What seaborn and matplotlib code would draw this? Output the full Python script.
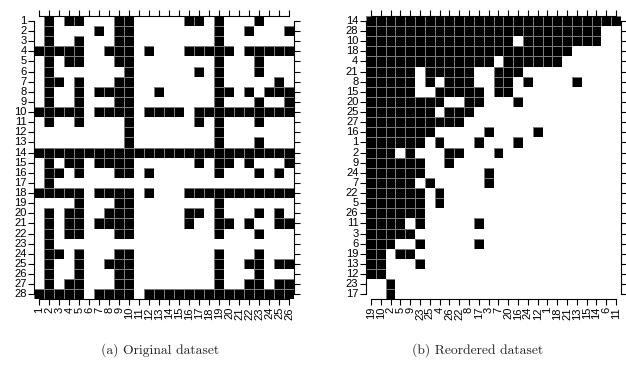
import numpy as np
import pandas as pd
import matplotlib
matplotlib.use("Agg")
import matplotlib.pyplot as plt
import seaborn as sns
from matplotlib.colors import ListedColormap, to_rgba

# ---- data: black cells (column indices) for each row of the original matrix ----
row_ids = list(range(1, 29))
col_ids = list(range(1, 27))
black_cells = {
    1: [2, 4, 5, 9, 10, 16, 17, 19, 23],
    2: [2, 7, 9, 10, 19, 22, 26],
    3: [2, 5, 9, 10, 19],
    4: [1, 2, 3, 4, 5, 8, 9, 10, 12, 16, 17, 18, 19, 20, 22, 23, 24, 25, 26],
    5: [2, 4, 5, 9, 10, 19, 23],
    6: [2, 10, 17, 19, 23],
    7: [2, 3, 5, 9, 10, 19, 25],
    8: [2, 5, 7, 8, 9, 10, 13, 19, 20, 22, 24, 25, 26],
    9: [2, 5, 9, 10, 19, 23, 26],
    10: [1, 2, 3, 4, 5, 7, 8, 9, 10, 12, 13, 14, 15, 17, 18, 19, 20, 21, 22, 23, 24, 25, 26],
    11: [2, 5, 10, 17, 19, 23],
    12: [10, 19],
    13: [10, 19, 23],
    14: [1, 2, 3, 4, 5, 6, 7, 8, 9, 10, 11, 12, 13, 14, 15, 16, 17, 18, 19, 20, 21, 22, 23, 24, 25, 26],
    15: [2, 4, 5, 7, 8, 9, 10, 17, 19, 20, 22, 26],
    16: [2, 3, 5, 9, 10, 12, 19, 23, 25],
    17: [2],
    18: [1, 2, 3, 4, 5, 7, 8, 9, 10, 12, 16, 17, 18, 19, 20, 21, 22, 23, 24, 25, 26],
    19: [5, 9, 10, 19],
    20: [2, 4, 5, 8, 9, 10, 16, 17, 19, 23, 25],
    21: [2, 4, 5, 7, 8, 9, 10, 16, 19, 20, 22, 25, 26],
    22: [2, 4, 5, 9, 10, 19, 23],
    23: [2],
    24: [2, 3, 5, 9, 10, 19, 23],
    25: [2, 5, 8, 9, 10, 19, 22, 23, 25, 26],
    26: [2, 5, 9, 10, 19, 23],
    27: [2, 4, 5, 9, 10, 19, 22, 23, 25, 26],
    28: [1, 2, 3, 4, 5, 7, 8, 9, 10, 12, 13, 14, 15, 16, 17, 18, 19, 20, 21, 22, 23, 24, 25, 26],
}
row_order = [14, 28, 10, 18, 4, 21, 8, 15, 20, 25, 27, 16, 1, 2, 9, 24, 7, 22, 5, 26, 11, 3, 6, 19, 13, 12, 23, 17]
col_order = [19, 10, 2, 5, 9, 23, 25, 4, 26, 22, 8, 17, 3, 7, 20, 16, 24, 12, 1, 18, 21, 13, 15, 14, 6, 11]
captions = ["(a) Original dataset", "(b) Reordered dataset"]

# ---- build matrices ----
mat = pd.DataFrame(0, index=row_ids, columns=col_ids)
for r, cols in black_cells.items():
    mat.loc[r, cols] = 1
mat_re = mat.loc[row_order, col_order]

sns.set_theme(style="white")
plt.rcParams['font.family'] = ['Liberation Sans', 'DejaVu Sans']

W, H = 626, 368
fig = plt.figure(figsize=(W / 100, H / 100), dpi=100)

def px_axes(x0, y0, x1, y1):
    return fig.add_axes([x0 / W, 1 - y1 / H, (x1 - x0) / W, (y1 - y0) / H])

ax1 = px_axes(34.3, 15.9, 294.3, 299.4)
ax2 = px_axes(366.0, 15.9, 621.0, 299.4)

def draw(ax, df, right_ticks=True):
    sns.heatmap(df, cmap=ListedColormap(['white', 'black']), vmin=0, vmax=1, cbar=False,
                linewidths=0.45, linecolor='#7a7a7a', square=False, ax=ax,
                xticklabels=[str(c) for c in df.columns],
                yticklabels=[str(r) for r in df.index])
    # grey cell outlines only around black cells
    mesh = ax.collections[0]
    flat = df.values.ravel()
    edge = np.array([to_rgba('#7a7a7a') if v else (1, 1, 1, 0) for v in flat])
    mesh.set_edgecolor(edge)
    nr, nc = df.shape
    ax.set_xlabel('')
    ax.set_ylabel('')
    for name, sp in ax.spines.items():
        sp.set_visible(True)
        sp.set_color('black')
        sp.set_linewidth(0.8)
    ax.spines['top'].set_bounds(0.5, nc - 0.5)
    ax.spines['bottom'].set_bounds(0.5, nc - 0.5)
    ax.spines['left'].set_bounds(0.5, nr - 0.5)
    ax.spines['right'].set_bounds(0.5, nr - 0.5)
    ax.spines['right'].set_visible(right_ticks)
    ax.tick_params(axis='both', which='both', direction='out', length=4, width=0.8,
                   color='black', labelsize=8, labelcolor='black', pad=1.5,
                   top=True, labeltop=False, bottom=True, left=True,
                   right=right_ticks, labelright=False)
    plt.setp(ax.get_xticklabels(), rotation=90, va='top', ha='center')
    plt.setp(ax.get_yticklabels(), rotation=0)

draw(ax1, mat, True)
draw(ax2, mat_re, True)

fig.text(160 / W, 1 - 350 / H, captions[0], ha='center', va='center',
         fontsize=9.8, family='cmr10')
fig.text(478 / W, 1 - 350 / H, captions[1], ha='center', va='center',
         fontsize=9.8, family='cmr10')

fig.savefig('out.png', dpi=100)
